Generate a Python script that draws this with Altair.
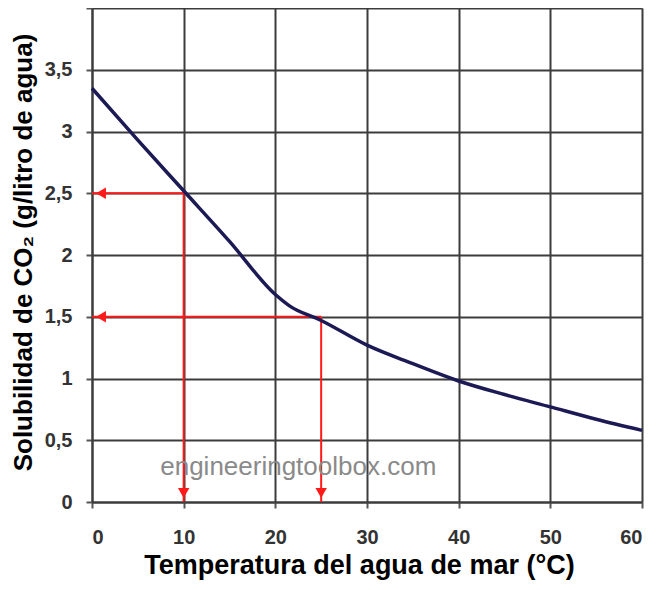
import altair as alt
import pandas as pd

temps = [0, 5, 10, 15, 20, 21.5, 25, 30, 35, 40, 45, 50, 55, 60]
solub = [3.35, 2.93, 2.52, 2.11, 1.68, 1.59, 1.47, 1.27, 1.12, 0.98, 0.87, 0.77, 0.67, 0.58]

guide_x = [10, 25]
guide_y = [2.5, 1.5]

x_ticks = [0, 10, 20, 30, 40, 50, 60]
y_ticks = [0, 0.5, 1, 1.5, 2, 2.5, 3, 3.5, 4]

df = pd.DataFrame({"t": temps, "s": solub})
g = pd.DataFrame({"t": guide_x, "s": guide_y, "zero_t": [0, 0], "zero_s": [0, 0]})

FONT = "Liberation Sans"

xscale = alt.Scale(domain=[0, 60], nice=False)
yscale = alt.Scale(domain=[0, 4], nice=False)

xaxis = alt.Axis(values=x_ticks, title="Temperatura del agua de mar (°C)",
                 labelFont=FONT, labelFontSize=20, labelFontWeight="bold", labelColor="#333333",
                 titleFont=FONT, titleFontSize=27, titleFontWeight="bold", titleColor="black",
                 titleX=267, titleY=63, titleAlign="center", titleBaseline="middle",
                 labelPadding=19, tickSize=6, tickColor="#555555", tickWidth=2,
                 grid=True, gridColor="#3c3c3c", gridWidth=2, domainColor="#3c3c3c", domainWidth=2)
yaxis = alt.Axis(values=y_ticks, title="Solubilidad de CO₂ (g/litro de agua)",
                 labelExpr="datum.value == 4 ? '' : replace(format(datum.value, '~g'), '.', ',')",
                 labelFont=FONT, labelFontSize=20, labelFontWeight="bold", labelColor="#333333",
                 titleFont=FONT, titleFontSize=26, titleFontWeight="bold", titleColor="black",
                 titleX=-69, titleY=244, titleAngle=270, titleAlign="center", titleBaseline="middle",
                 labelPadding=14, tickSize=6, tickColor="#555555", tickWidth=2,
                 grid=True, gridColor="#3c3c3c", gridWidth=2, domainColor="#3c3c3c", domainWidth=2)

base = alt.Chart(df)

curve = base.mark_line(color="#1c1a55", strokeWidth=3.5, interpolate="monotone").encode(
    x=alt.X("t:Q", scale=xscale, axis=xaxis),
    y=alt.Y("s:Q", scale=yscale, axis=yaxis),
)

gb = alt.Chart(g)
hlines = gb.mark_rule(color="#ff1a1a", strokeWidth=2).encode(
    x=alt.X("zero_t:Q", scale=xscale), x2="t:Q", y=alt.Y("s:Q", scale=yscale))
vlines = gb.mark_rule(color="#ff1a1a", strokeWidth=2).encode(
    x=alt.X("t:Q", scale=xscale), y=alt.Y("zero_s:Q", scale=yscale), y2="s:Q")
left_heads = gb.mark_point(shape="triangle-left", filled=True, color="#ff1a1a", size=130, opacity=1,
                           xOffset=9).encode(
    x=alt.X("zero_t:Q", scale=xscale), y=alt.Y("s:Q", scale=yscale))
down_heads = gb.mark_point(shape="triangle-down", filled=True, color="#ff1a1a", size=130, opacity=1,
                           yOffset=-9).encode(
    x=alt.X("t:Q", scale=xscale), y=alt.Y("zero_s:Q", scale=yscale))

wm = alt.Chart(pd.DataFrame({"t": [22.5], "s": [0.285], "txt": ["engineeringtoolbox.com"]})).mark_text(
    font=FONT, fontSize=26, color="#8a8a8a", align="center", baseline="middle").encode(
    x=alt.X("t:Q", scale=xscale), y=alt.Y("s:Q", scale=yscale), text="txt:N")

chart = alt.layer(vlines, hlines, left_heads, down_heads, curve, wm).properties(
    width=550, height=494,
    autosize=alt.AutoSizeParams(type="none"),
    padding={"left": 84, "top": 0, "right": 12, "bottom": 80},
).configure_view(stroke="#888888", strokeWidth=3).configure(background="white")

chart.save("out.html", embed_options={"renderer": "svg", "actions": False})
